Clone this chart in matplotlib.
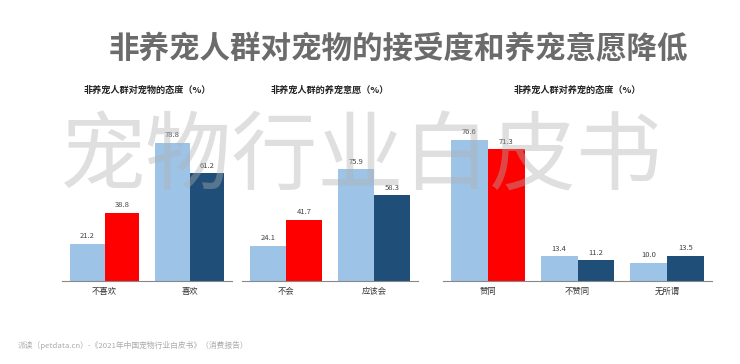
import matplotlib
matplotlib.use('Agg')
import matplotlib.pyplot as plt
import numpy as np

plt.rcParams['font.family'] = ['Noto Sans CJK SC', 'DejaVu Sans']

title = '非养宠人群对宠物的接受度和养宠意愿降低'
source = '派读（petdata.cn）-《2021年中国宠物行业白皮书》（消费报告）'
watermark = '宠物行业白皮书'

p1_title = '非养宠人群对宠物的态度（%）'
p1_cats = ['不喜欢', '喜欢']
p1_a = [21.2, 78.8]
p1_b = [38.8, 61.2]

p2_title = '非养宠人群的养宠意愿（%）'
p2_cats = ['不会', '应该会']
p2_a = [24.1, 75.9]
p2_b = [41.7, 58.3]

p3_title = '非养宠人群对养宠的态度（%）'
p3_cats = ['赞同', '不赞同', '无所谓']
p3_a = [76.6, 13.4, 10.0]
p3_b = [71.3, 11.2, 13.5]

light = '#9DC3E6'
red = '#FF0000'
dark = '#1F4E79'

W, H = 740, 364
fig = plt.figure(figsize=(W / 100, H / 100), dpi=100)


def px_axes(x0, x1, ytop, ybot):
    return fig.add_axes([x0 / W, 1 - ybot / H, (x1 - x0) / W, (ybot - ytop) / H])


panels = [
    (p1_title, p1_cats, p1_a, p1_b, 62, 232, 103),
    (p2_title, p2_cats, p2_a, p2_b, 242, 418, 123),
    (p3_title, p3_cats, p3_a, p3_b, 443, 712, 98),
]

w = 0.41
for name, cats, a, b, x0, x1, ytop in panels:
    ax = px_axes(x0, x1, 100, 281)
    x = np.arange(len(cats))
    colors_b = [red] + [dark] * (len(cats) - 1)
    ax.bar(x - w / 2, a, w, color=light)
    ax.bar(x + w / 2, b, w, color=colors_b)
    for xi, v in zip(x - w / 2, a):
        ax.text(xi, v + ytop * 0.02, f'{v:.1f}', ha='center', va='bottom', fontsize=5.5, color='#444')
    for xi, v in zip(x + w / 2, b):
        ax.text(xi, v + ytop * 0.02, f'{v:.1f}', ha='center', va='bottom', fontsize=5.5, color='#444')
    ax.set_xlim(-0.5, len(cats) - 0.5)
    ax.set_ylim(0, ytop)
    ax.set_xticks(x)
    ax.set_xticklabels(cats, fontsize=6, color='#333')
    ax.tick_params(axis='x', length=0, pad=4)
    ax.set_yticks([])
    for s in ['top', 'right', 'left']:
        ax.spines[s].set_visible(False)
    ax.spines['bottom'].set_color('#888')
    ax.spines['bottom'].set_linewidth(0.8)
    fig.text((x0 + x1) / 2 / W, 1 - 90 / H, name, ha='center', va='center',
             fontsize=6.6, fontweight='bold', color='#222')

fig.text(398 / W, 1 - 49 / H, title, ha='center', va='center', fontsize=22,
         fontweight='bold', color='#6b6b6b')
fig.text(361 / W, 1 - 159 / H, watermark, ha='center', va='center', fontsize=62,
         color='#b0b0b0', alpha=0.4, zorder=10)
fig.text(18 / W, 1 - 345 / H, source, ha='left', va='center', fontsize=5.6, color='#aaa')

fig.savefig('out.png', dpi=100)
